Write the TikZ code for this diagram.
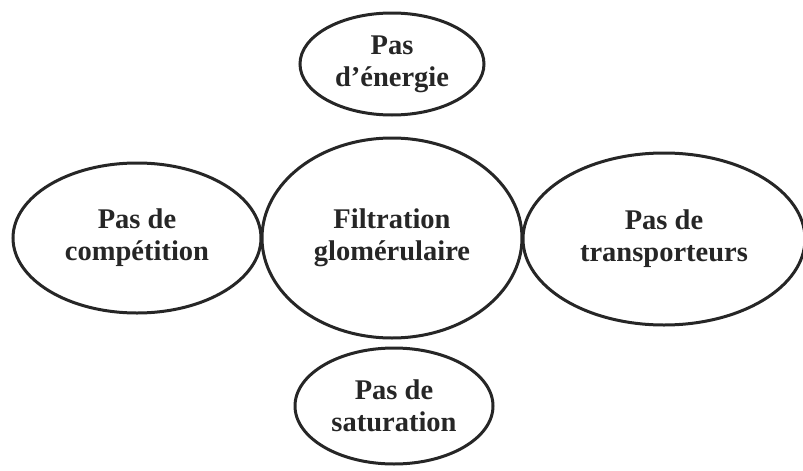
\documentclass[tikz,border=0pt]{standalone}
\usepackage{fontspec}
\setmainfont{Liberation Serif}
\usetikzlibrary{shapes.geometric}
\begin{document}
\begin{tikzpicture}[x=1pt,y=-1pt,
  bub/.style={ellipse, draw=black!85, line width=3pt, inner sep=0pt, align=center,
    font=\fontsize{28.5}{32}\selectfont\bfseries, text=black!85}]
\useasboundingbox (0,0) rectangle (803,471);
\node[bub, minimum width=260pt, minimum height=200pt] (c) at (392,238) {Filtration\\glomérulaire};
\node[bub, minimum width=184pt, minimum height=102pt] (t) at (392,64) {Pas\\d’énergie};
\node[bub, minimum width=198pt, minimum height=116pt] (b) at (394,406) {Pas de\\saturation};
\node[bub, minimum width=248pt, minimum height=150pt] (l) at (137,238) {Pas de\\compétition};
\node[bub, minimum width=282pt, minimum height=172pt] (r) at (664,239) {Pas de\\transporteurs};
\end{tikzpicture}
\end{document}
